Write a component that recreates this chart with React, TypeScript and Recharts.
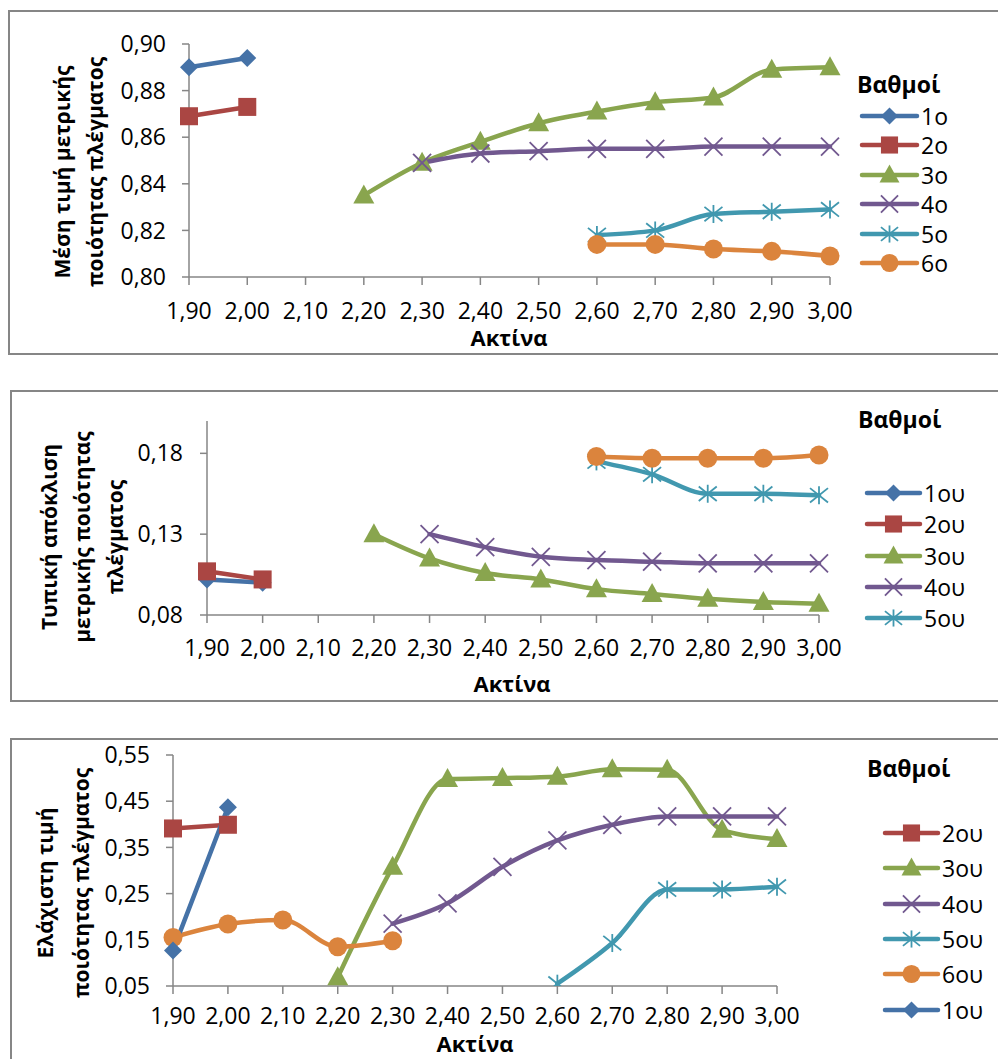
import React from "react";
import { LineChart, Line, XAxis, YAxis } from "recharts";

const categories = ["1,90", "2,00", "2,10", "2,20", "2,30", "2,40", "2,50", "2,60", "2,70", "2,80", "2,90", "3,00"];

const n = null;
// Panel 1: Μέση τιμή μετρικής ποιότητας πλέγματος
const p1_1 = [0.890, 0.894, n, n, n, n, n, n, n, n, n, n];
const p1_2 = [0.869, 0.873, n, n, n, n, n, n, n, n, n, n];
const p1_3 = [n, n, n, 0.835, 0.849, 0.858, 0.866, 0.871, 0.875, 0.877, 0.889, 0.890];
const p1_4 = [n, n, n, n, 0.849, 0.853, 0.854, 0.855, 0.855, 0.856, 0.856, 0.856];
const p1_5 = [n, n, n, n, n, n, n, 0.818, 0.820, 0.827, 0.828, 0.829];
const p1_6 = [n, n, n, n, n, n, n, 0.814, 0.814, 0.812, 0.811, 0.809];
const p1_ticks = [0.8, 0.82, 0.84, 0.86, 0.88, 0.9];

// Panel 2: Τυπική απόκλιση
const p2_1 = [0.102, 0.100, n, n, n, n, n, n, n, n, n, n];
const p2_2 = [0.107, 0.102, n, n, n, n, n, n, n, n, n, n];
const p2_3 = [n, n, n, 0.130, 0.115, 0.106, 0.102, 0.096, 0.093, 0.090, 0.088, 0.087];
const p2_4 = [n, n, n, n, 0.130, 0.122, 0.116, 0.114, 0.113, 0.112, 0.112, 0.112];
const p2_5 = [n, n, n, n, n, n, n, 0.175, 0.167, 0.155, 0.155, 0.154];
const p2_6 = [n, n, n, n, n, n, n, 0.178, 0.177, 0.177, 0.177, 0.179];
const p2_ticks = [0.08, 0.13, 0.18];

// Panel 3: Ελάχιστη τιμή
const p3_2 = [0.391, 0.399, n, n, n, n, n, n, n, n, n, n];
const p3_3 = [n, n, n, 0.069, 0.308, 0.498, 0.500, 0.503, 0.519, 0.518, 0.388, 0.368];
const p3_4 = [n, n, n, n, 0.185, 0.229, 0.308, 0.365, 0.399, 0.417, 0.417, 0.417];
const p3_5 = [n, n, n, n, n, n, n, 0.055, 0.143, 0.259, 0.259, 0.265];
const p3_6 = [0.155, 0.184, 0.193, 0.135, 0.148, n, n, n, n, n, n, n];
const p3_1 = [0.127, 0.437, n, n, n, n, n, n, n, n, n, n];
const p3_ticks = [0.05, 0.15, 0.25, 0.35, 0.45, 0.55];

const C = {
  blue: "#4572A7",
  red: "#AA4643",
  green: "#89A54E",
  purple: "#71588F",
  teal: "#4198AF",
  orange: "#DB843D",
};

const FONT = "'Open Sans', 'Noto Sans', sans-serif";
const AXIS = "#868686";

const rows1 = categories.map((x, i) => ({ x, a: p1_1[i], b: p1_2[i], c: p1_3[i], d: p1_4[i], e: p1_5[i], f: p1_6[i] }));
const rows2 = categories.map((x, i) => ({ x, a: p2_1[i], b: p2_2[i], c: p2_3[i], d: p2_4[i], e: p2_5[i], f: p2_6[i] }));
const rows3 = categories.map((x, i) => ({ x, b: p3_2[i], c: p3_3[i], d: p3_4[i], e: p3_5[i], f: p3_6[i], a: p3_1[i] }));

type Shape = "diamond" | "square" | "triangle" | "x" | "star" | "circle";

function Marker({ shape, color, cx, cy, s = 1 }: { shape: Shape; color: string; cx: number; cy: number; s?: number }) {
  const r = 9 * s;
  switch (shape) {
    case "diamond":
      return <polygon points={`${cx},${cy - r} ${cx + r},${cy} ${cx},${cy + r} ${cx - r},${cy}`} fill={color} />;
    case "square":
      return <rect x={cx - r} y={cy - r} width={2 * r} height={2 * r} fill={color} />;
    case "triangle":
      return <polygon points={`${cx},${cy - 11 * s} ${cx + 10.5 * s},${cy + 8 * s} ${cx - 10.5 * s},${cy + 8 * s}`} fill={color} />;
    case "circle":
      return <circle cx={cx} cy={cy} r={9.5 * s} fill={color} />;
    case "x":
      return (
        <g stroke={color} strokeWidth={1.8}>
          <line x1={cx - r} y1={cy - r} x2={cx + r} y2={cy + r} />
          <line x1={cx - r} y1={cy + r} x2={cx + r} y2={cy - r} />
        </g>
      );
    case "star":
      return (
        <g stroke={color} strokeWidth={1.8}>
          <line x1={cx - r} y1={cy - r * 0.8} x2={cx + r} y2={cy + r * 0.8} />
          <line x1={cx - r} y1={cy + r * 0.8} x2={cx + r} y2={cy - r * 0.8} />
          <line x1={cx} y1={cy - r} x2={cx} y2={cy + r} />
        </g>
      );
  }
  return null;
}

const makeDot = (shape: Shape, color: string) => (props: any) => {
  const { cx, cy, index, value } = props;
  if (cx == null || cy == null || value == null || isNaN(cx) || isNaN(cy)) return <g key={`e${index}`} />;
  return (
    <g key={`d${index}`}>
      <Marker shape={shape} color={color} cx={cx} cy={cy} />
    </g>
  );
};

const fmt = (v: number) => v.toFixed(2).replace(".", ",");

type SeriesDef = { key: string; label: string; shape: Shape; color: string };

const series1: SeriesDef[] = [
  { key: "a", label: "1ο", shape: "diamond", color: C.blue },
  { key: "b", label: "2ο", shape: "square", color: C.red },
  { key: "c", label: "3ο", shape: "triangle", color: C.green },
  { key: "d", label: "4ο", shape: "x", color: C.purple },
  { key: "e", label: "5ο", shape: "star", color: C.teal },
  { key: "f", label: "6ο", shape: "circle", color: C.orange },
];
const series2: SeriesDef[] = [
  { key: "a", label: "1ου", shape: "diamond", color: C.blue },
  { key: "b", label: "2ου", shape: "square", color: C.red },
  { key: "c", label: "3ου", shape: "triangle", color: C.green },
  { key: "d", label: "4ου", shape: "x", color: C.purple },
  { key: "e", label: "5ου", shape: "star", color: C.teal },
  { key: "f", label: "6ου", shape: "circle", color: C.orange },
];
const legend2Keys = ["a", "b", "c", "d", "e"];
const series3: SeriesDef[] = [
  { key: "b", label: "2ου", shape: "square", color: C.red },
  { key: "c", label: "3ου", shape: "triangle", color: C.green },
  { key: "d", label: "4ου", shape: "x", color: C.purple },
  { key: "e", label: "5ου", shape: "star", color: C.teal },
  { key: "f", label: "6ου", shape: "circle", color: C.orange },
  { key: "a", label: "1ου", shape: "diamond", color: C.blue },
];

function LegendBlock({ title, titleX, titleY, items, x1, x2, textX, y0, dy }: any) {
  return (
    <>
      <div style={{ position: "absolute", left: titleX, top: titleY, transform: "translateY(-50%)", fontWeight: 700, fontSize: 23, lineHeight: 1, whiteSpace: "nowrap" }}>{title}</div>
      {items.map((it: SeriesDef, i: number) => {
        const y = y0 + i * dy;
        return (
          <React.Fragment key={it.label}>
            <svg style={{ position: "absolute", left: x1 - 4, top: y - 12 }} width={x2 - x1 + 8} height={24}>
              <line x1={4} y1={12} x2={x2 - x1 + 4} y2={12} stroke={it.color} strokeWidth={4.5} strokeLinecap="round" />
              <Marker shape={it.shape} color={it.color} cx={(x2 - x1) / 2 + 4} cy={12} s={0.95} />
            </svg>
            <div style={{ position: "absolute", left: textX, top: y, transform: "translateY(-50%)", fontSize: 23, lineHeight: 1, whiteSpace: "nowrap" }}>{it.label}</div>
          </React.Fragment>
        );
      })}
    </>
  );
}

function YLabel({ lines, x, y, gap }: { lines: string[]; x: number; y: number; gap: number }) {
  return (
    <div
      style={{
        position: "absolute",
        left: x,
        top: y,
        transform: "translate(-50%, -50%) rotate(-90deg)",
        fontWeight: 700,
        fontSize: 21,
        lineHeight: `${gap}px`,
        textAlign: "center",
        whiteSpace: "nowrap",
      }}
    >
      {lines.map((l) => (
        <div key={l}>{l}</div>
      ))}
    </div>
  );
}

function XLabel({ x, y }: { x: number; y: number }) {
  return (
    <div style={{ position: "absolute", left: x, top: y, transform: "translate(-50%, -50%)", fontWeight: 700, fontSize: 22, lineHeight: "16px", whiteSpace: "nowrap" }}>
      Ακτίνα
    </div>
  );
}

function Panel({ top, height, data, series, domain, ticks, margin, xTickMargin, yTickMargin }: any) {
  return (
    <div style={{ position: "absolute", left: 0, top, width: 998, height }}>
      <LineChart width={998} height={height} data={data} margin={margin}>
        <XAxis
          dataKey="x"
          interval={0}
          height={30}
          tickSize={8}
          tickMargin={xTickMargin}
          axisLine={{ stroke: AXIS, strokeWidth: 1.5 }}
          tickLine={{ stroke: AXIS, strokeWidth: 1.5 }}
          tick={{ fill: "#000", fontSize: 23, fontFamily: FONT }}
        />
        <YAxis
          type="number"
          width={100}
          domain={domain}
          ticks={ticks}
          allowDataOverflow
          tickFormatter={fmt}
          tickSize={7}
          tickMargin={yTickMargin}
          axisLine={{ stroke: AXIS, strokeWidth: 1.5 }}
          tickLine={{ stroke: AXIS, strokeWidth: 1.5 }}
          tick={{ fill: "#000", fontSize: 23, fontFamily: FONT }}
        />
        {series.map((s: SeriesDef) => (
          <Line
            key={s.key}
            dataKey={s.key}
            stroke={s.color}
            strokeWidth={4.5}
            strokeLinejoin="round"
            strokeLinecap="round"
            dot={makeDot(s.shape, s.color)}
            activeDot={false}
            isAnimationActive={false}
            connectNulls={false}
            type="monotone"
          />
        ))}
      </LineChart>
    </div>
  );
}

const border = (left: number, top: number, height: number) => ({
  position: "absolute" as const,
  left,
  top,
  width: 1100,
  height,
  border: `2px solid ${AXIS}`,
  boxSizing: "border-box" as const,
});

export default function App() {
  return (
    <div style={{ position: "absolute", left: 0, top: 0, width: 998, height: 1059, overflow: "hidden", background: "#fff", fontFamily: FONT, color: "#000" }}>
      <div style={border(8, 10, 345)} />
      <div style={border(10, 390, 312)} />
      <div style={border(10, 738, 400)} />

      <Panel
        top={0}
        height={360}
        data={rows1}
        series={series1}
        domain={[0.8, 0.9]}
        ticks={p1_ticks}
        margin={{ top: 44, right: 168, bottom: 53, left: 89 }}
        xTickMargin={18}
        yTickMargin={16}
      />
      <Panel
        top={380}
        height={330}
        data={rows2}
        series={series2}
        domain={[0.08, 0.2]}
        ticks={p2_ticks}
        margin={{ top: 41, right: 179, bottom: 65, left: 107 }}
        xTickMargin={17}
        yTickMargin={17}
      />
      <Panel
        top={720}
        height={339}
        data={rows3}
        series={series3}
        domain={[0.05, 0.55]}
        ticks={p3_ticks}
        margin={{ top: 35, right: 221, bottom: 43, left: 73 }}
        xTickMargin={14}
        yTickMargin={16}
      />

      <YLabel lines={["Μέση τιμή μετρικής", "ποιότητας πλέγματος"]} x={79} y={172} gap={33} />
      <YLabel lines={["Τυπική απόκλιση", "μετρικής ποιότητας", "πλέγματος"]} x={82} y={537} gap={33} />
      <YLabel lines={["Ελάχιστη τιμή", "ποιότητας πλέγματος"]} x={63} y={883} gap={36} />

      <XLabel x={509} y={337} />
      <XLabel x={512} y={683} />
      <XLabel x={475} y={1043} />

      <LegendBlock title="Βαθμοί" titleX={857} titleY={84} items={series1} x1={862} x2={917} textX={921} y0={116} dy={29.4} />
      <LegendBlock
        title="Βαθμοί"
        titleX={858}
        titleY={419}
        items={series2.filter((s) => legend2Keys.includes(s.key))}
        x1={867}
        x2={920}
        textX={924}
        y0={493}
        dy={31.3}
      />
      <LegendBlock title="Βαθμοί" titleX={867} titleY={768} items={series3} x1={885} x2={938} textX={942} y0={833} dy={35.3} />
    </div>
  );
}
